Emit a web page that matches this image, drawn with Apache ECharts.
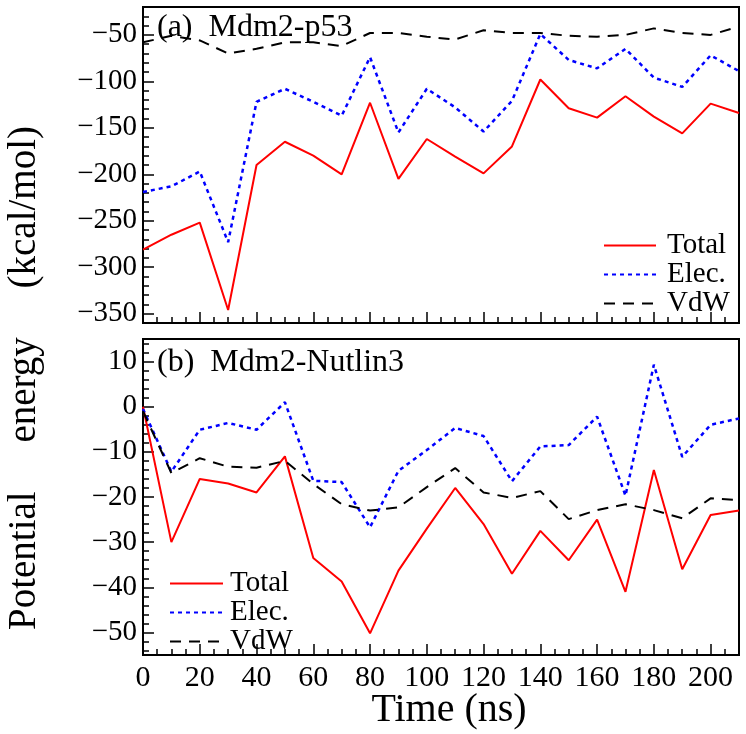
<!DOCTYPE html>
<html><head><meta charset="utf-8">
<script src="https://cdn.jsdelivr.net/npm/echarts@6/dist/echarts.min.js"></script>
<style>html,body{margin:0;padding:0;background:#fff}#c{width:746px;height:734px}</style>
</head><body><div id="c"></div>
<script>
// ---- data ----
const time = [0,10,20,30,40,50,60,70,80,90,100,110,120,130,140,150,160,170,180,190,200,210];
const p53Total = [-281,-265,-252,-346,-190,-165,-180,-200,-123,-205,-162,-181,-199,-170,-98,-129,-139,-116,-138,-156,-124,-134];
const p53Elec  = [-219,-213,-197,-273,-122,-108,-122,-137,-74,-155,-108,-128,-154,-121,-49,-77,-86,-65,-96,-106,-72,-89];
const p53Vdw   = [-58,-51,-56,-70,-65,-58,-58,-62,-48,-48,-52,-55,-45,-48,-48,-51,-52,-50,-43,-48,-50,-41];
const nutTotal = [0,-30,-16,-17,-19,-11,-33.5,-38.7,-50.2,-36.3,-27,-18,-26,-37,-27.5,-34,-25,-41,-14,-36,-24,-23];
const nutElec  = [-0.5,-14.4,-5.1,-3.6,-5.1,1.0,-16.4,-16.7,-26.7,-14.2,-9.6,-4.7,-6.5,-16.5,-8.8,-8.5,-2.2,-19.7,9.3,-11.1,-4.0,-2.6];
const nutVdw   = [-1,-14.7,-11.4,-13.3,-13.5,-12,-17.1,-21.6,-23,-22.3,-17.8,-13.6,-19,-20.2,-18.7,-24.9,-22.9,-21.6,-22.9,-24.7,-20.3,-20.7];
const xTickLabels = [0,20,40,60,80,100,120,140,160,180,200];
const topYTickLabels = [-350,-300,-250,-200,-150,-100,-50];
const botYTickLabels = [-50,-40,-30,-20,-10,0,10];
const seriesNames = ['Total','Elec.','VdW'];
const panelTitles = ['(a)  Mdm2-p53', '(b)  Mdm2-Nutlin3'];
const xName = 'Time (ns)';
const yName = 'Potential     energy     (kcal/mol)';

// ---- layout/styling ----
const FONT = '"Liberation Serif","Times New Roman",serif';
const L = 143, W = 596, H = 316, T1 = 7, T2 = 339;
function minors(lo, hi, step, majorStep) {
  const out = [];
  for (let v = lo; v <= hi + 1e-9; v += step) {
    const r = Math.round(v * 1000) / 1000;
    if (Math.abs(r / majorStep - Math.round(r / majorStep)) > 1e-6) out.push(r);
  }
  return out;
}
const fmt = v => v < 0 ? '\u2212' + Math.abs(v) : String(v);
const pair = (arr) => time.map((t, i) => [t, arr[i]]);

const axisLineStyle = { show: true, onZero: false, lineStyle: { color: '#000', width: 2 } };
function xMajor(grid, showLabel) {
  return { type: 'value', gridIndex: grid, min: 0, max: 210, position: 'bottom',
    axisLine: axisLineStyle, splitLine: { show: false },
    axisTick: { show: true, inside: true, length: 11, customValues: xTickLabels, lineStyle: { color: '#000', width: 1.5 } },
    axisLabel: { show: showLabel, customValues: xTickLabels, margin: 8, color: '#000', fontFamily: FONT, fontSize: 30 } };
}
function xMinor(grid) {
  return { type: 'value', gridIndex: grid, min: 0, max: 210, position: 'bottom',
    axisLine: { show: false, onZero: false }, splitLine: { show: false }, axisLabel: { show: false },
    axisTick: { show: true, inside: true, length: 6, customValues: minors(0, 210, 5, 20).filter(v => v < 210), lineStyle: { color: '#000', width: 1.5 } } };
}
function yMajor(grid, min, max, ticks) {
  return { type: 'value', gridIndex: grid, min, max, position: 'left',
    axisLine: axisLineStyle, splitLine: { show: false },
    axisTick: { show: true, inside: true, length: 11, customValues: ticks, lineStyle: { color: '#000', width: 1.5 } },
    axisLabel: { show: true, customValues: ticks, formatter: fmt, margin: 6, color: '#000', fontFamily: FONT, fontSize: 29 } };
}
function yMinor(grid, min, max, vals) {
  return { type: 'value', gridIndex: grid, min, max, position: 'left',
    axisLine: { show: false, onZero: false }, splitLine: { show: false }, axisLabel: { show: false },
    axisTick: { show: true, inside: true, length: 6, customValues: vals, lineStyle: { color: '#000', width: 1.5 } } };
}

const styles = [
  { color: '#ff0000', type: 'solid', width: 2 },
  { color: '#0000ff', type: [4, 4], width: 2.5 },
  { color: '#000000', type: [11, 8], width: 2 }
];
function mk(name, data, xi, yi, s) {
  return { name, type: 'line', xAxisIndex: xi, yAxisIndex: yi, data: pair(data),
    symbol: 'none', showSymbol: false, animation: false, z: 3,
    lineStyle: { color: s.color, type: s.type, width: s.width }, itemStyle: { color: s.color } };
}

const legendCommon = { data: seriesNames, orient: 'vertical', itemHeight: 14, itemGap: 0, selectedMode: false,
  itemStyle: { opacity: 0 }, lineStyle: { width: 2 } };

const chart = echarts.init(document.getElementById('c'), null, { renderer: 'canvas' });
chart.setOption({
  animation: false,
  backgroundColor: '#fff',
  grid: [
    { left: L, top: T1, width: W, height: H, show: true, borderColor: '#000', borderWidth: 2, backgroundColor: 'transparent' },
    { left: L, top: T2, width: W, height: H, show: true, borderColor: '#000', borderWidth: 2, backgroundColor: 'transparent' }
  ],
  xAxis: [ xMajor(0, false), xMinor(0), xMajor(1, true), xMinor(1) ],
  yAxis: [
    yMajor(0, -360, -20, topYTickLabels),
    yMinor(0, -360, -20, minors(-350, -30, 10, 50)),
    yMajor(1, -55, 15, botYTickLabels),
    yMinor(1, -55, 15, minors(-54, 14, 2, 10))
  ],
  legend: [
    Object.assign({}, legendCommon, { left: 598, top: 226, itemWidth: 52,
      textStyle: { fontFamily: FONT, fontSize: 29, lineHeight: 28, color: '#000', padding: [0,0,0,6] } }),
    Object.assign({}, legendCommon, { left: 164, top: 564, itemWidth: 53,
      textStyle: { fontFamily: FONT, fontSize: 29, lineHeight: 26.5, color: '#000', padding: [0,0,0,2] } })
  ],
  series: [
    mk(seriesNames[0], p53Total, 0, 0, styles[0]),
    mk(seriesNames[1], p53Elec, 0, 0, styles[1]),
    mk(seriesNames[2], p53Vdw, 0, 0, styles[2]),
    mk(seriesNames[0], nutTotal, 2, 2, styles[0]),
    mk(seriesNames[1], nutElec, 2, 2, styles[1]),
    mk(seriesNames[2], nutVdw, 2, 2, styles[2])
  ],
  graphic: [
    { type: 'text', x: 157, y: 28, z: 10, style: { text: panelTitles[0], fontFamily: FONT, fontSize: 32, fill: '#000', textVerticalAlign: 'middle' } },
    { type: 'text', x: 157, y: 363, z: 10, style: { text: panelTitles[1], fontFamily: FONT, fontSize: 32, fill: '#000', textVerticalAlign: 'middle' } },
    { type: 'text', x: 449, y: 710, z: 10, style: { text: xName, fontFamily: FONT, fontSize: 40, fill: '#000', textAlign: 'center', textVerticalAlign: 'middle' } },
    { type: 'text', x: 25, y: 378, rotation: Math.PI / 2, z: 10, style: { text: yName, fontFamily: FONT, fontSize: 39, fill: '#000', textAlign: 'center', textVerticalAlign: 'middle' } }
  ]
});
</script>
</body></html>
